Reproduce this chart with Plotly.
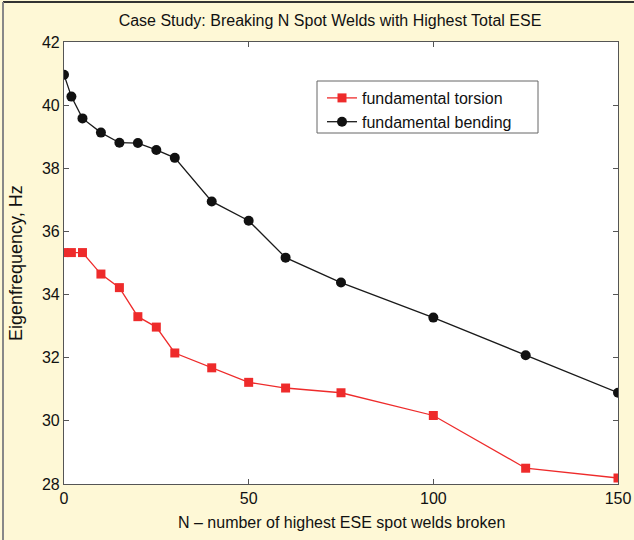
import plotly.graph_objects as go

n_bending = [0, 2, 5, 10, 15, 20, 25, 30, 40, 50, 60, 75, 100, 125, 150]
bending = [40.96, 40.27, 39.58, 39.13, 38.81, 38.80, 38.58, 38.33, 36.95, 36.34, 35.17, 34.38, 33.27, 32.08, 30.89]

n_torsion = [0, 2, 5, 10, 15, 20, 25, 30, 40, 50, 60, 75, 100, 125, 150]
torsion = [35.33, 35.33, 35.33, 34.65, 34.22, 33.30, 32.97, 32.15, 31.68, 31.22, 31.04, 30.89, 30.17, 28.50, 28.19]

x_ticks = [0, 50, 100, 150]
y_ticks = [28, 30, 32, 34, 36, 38, 40, 42]

font_family = "Liberation Sans, Arial, sans-serif"
W, H = 634, 540
L, R, T, B = 64, 16, 42, 56
pw, ph = W - L - R, H - T - B


def px_x(p):
    return (p - L) / pw


def px_y(p):
    return (H - B - p) / ph


fig = go.Figure()
fig.add_trace(go.Scatter(
    x=n_torsion, y=torsion, mode="lines+markers",
    name="fundamental torsion",
    line=dict(color="#EE2B2B", width=1.3),
    marker=dict(symbol="square", size=9, color="#EE2B2B"),
))
fig.add_trace(go.Scatter(
    x=n_bending, y=bending, mode="lines+markers",
    name="fundamental bending",
    line=dict(color="#1a1a1a", width=1.3),
    marker=dict(symbol="circle", size=10, color="#111111"),
))

axis_common = dict(
    showline=True, linecolor="#555555", linewidth=1.2,
    mirror="ticks", ticks="inside", ticklen=5, tickcolor="#555555",
    showgrid=False, zeroline=False, automargin=False,
    tickfont=dict(size=16, color="#111111", family=font_family),
)

fig.update_xaxes(range=[0, 150], tickvals=x_ticks, **axis_common)
fig.update_yaxes(range=[28, 42], tickvals=y_ticks, **axis_common)

fig.update_layout(
    width=W, height=H,
    margin=dict(l=L, r=R, t=T, b=B),
    paper_bgcolor="#FEF8D6",
    plot_bgcolor="#FFFFFF",
    font=dict(family=font_family, color="#111111"),
    title=dict(text="Case Study: Breaking N Spot Welds with Highest Total ESE",
               x=330 / W, xanchor="center", xref="container",
               y=1 - 20 / H, yanchor="middle", yref="container",
               font=dict(size=16, color="#111111", family=font_family)),
    legend=dict(x=px_x(322), y=px_y(81), xanchor="left", yanchor="top",
                bgcolor="rgba(0,0,0,0)", borderwidth=0,
                font=dict(size=16, color="#111111", family=font_family),
                itemwidth=30, tracegroupgap=0),
    showlegend=True,
    annotations=[
        dict(text="N \u2013 number of highest ESE spot welds broken",
             xref="paper", yref="paper", x=0.5, y=px_y(522),
             xanchor="center", yanchor="middle", showarrow=False,
             font=dict(size=16, color="#111111", family=font_family)),
        dict(text="Eigenfrequency, Hz", textangle=-90,
             xref="paper", yref="paper", x=px_x(16), y=0.5,
             xanchor="center", yanchor="middle", showarrow=False,
             font=dict(size=18, color="#111111", family=font_family)),
    ],
    shapes=[
        dict(type="rect", xref="paper", yref="paper", layer="above",
             x0=px_x(317), x1=px_x(538), y0=px_y(133), y1=px_y(81),
             fillcolor="rgba(255,255,255,0)", line=dict(color="#666666", width=1)),
        dict(type="rect", xref="paper", yref="paper", layer="below",
             x0=px_x(317), x1=px_x(538), y0=px_y(133), y1=px_y(81),
             fillcolor="#FFFFFF", line=dict(width=0)),
        dict(type="line", xref="paper", yref="paper", x0=px_x(3), x1=px_x(W),
             y0=px_y(2), y1=px_y(2),
             line=dict(color="#333333", width=2)),
        dict(type="line", xref="paper", yref="paper", x0=px_x(3), x1=px_x(3),
             y0=px_y(2), y1=px_y(H),
             line=dict(color="#888888", width=2)),
    ],
)

fig.write_html("out.html", config={"displayModeBar": False},
               post_script="document.body.style.margin='0px';")
